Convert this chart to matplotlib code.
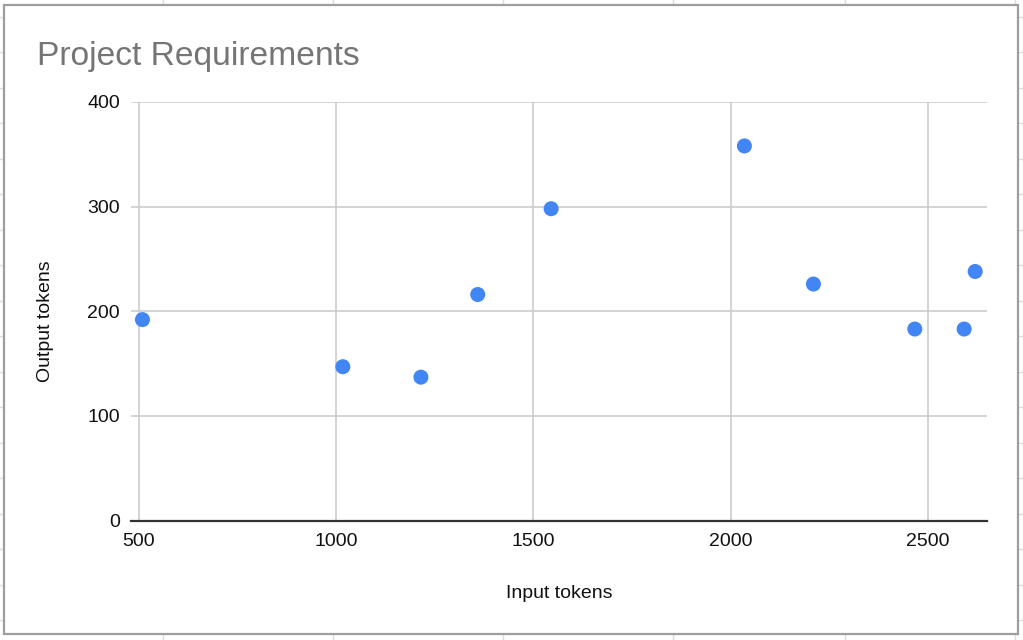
import matplotlib
matplotlib.use("Agg")
import matplotlib.pyplot as plt
from matplotlib.lines import Line2D
from matplotlib.patches import Rectangle

# ---- data ----
input_tokens = [509, 1017, 1215, 1359, 1545, 2035, 2210, 2467, 2592, 2620]
output_tokens = [192, 147, 137, 216, 298, 358, 226, 183, 183, 238]
x_ticks = [500, 1000, 1500, 2000, 2500]
y_ticks = [0, 100, 200, 300, 400]
title = "Project Requirements"
x_label = "Input tokens"
y_label = "Output tokens"

W, H = 1023, 640
plt.rcParams['font.family'] = ['Liberation Sans', 'DejaVu Sans']
fig = plt.figure(figsize=(W / 100, H / 100), dpi=100)
fig.patch.set_facecolor('white')

def fx(px):
    return px / W

def fy(py):
    return 1 - py / H

# faint spreadsheet grid behind the chart box
grid_c = '#dcdcdc'
for k in range(0, 19):
    y = 17 + 35.47 * k
    fig.add_artist(Line2D([0, 1], [fy(y), fy(y)], color=grid_c, lw=1, zorder=0))
for cx in [163, 333, 503, 673, 845, 1015]:
    fig.add_artist(Line2D([fx(cx), fx(cx)], [0, 1], color=grid_c, lw=1, zorder=0))

# chart box
fig.add_artist(Rectangle((fx(4), fy(634)), fx(1018) - fx(4), fy(5) - fy(634),
                         facecolor='white', edgecolor='#9e9e9e', lw=1.6, zorder=1))

ax = fig.add_axes([fx(131), fy(520.5), fx(987) - fx(131), fy(102) - fy(520.5)], zorder=2)
ax.set_facecolor('white')
ax.set_xlim(480, 2650)
ax.set_ylim(0, 400)
ax.set_xticks(x_ticks)
ax.set_yticks(y_ticks)
ax.grid(True, color='#cccccc', lw=1.2)
ax.set_axisbelow(True)
for s in ['top', 'right', 'left']:
    ax.spines[s].set_visible(False)
ax.spines['bottom'].set_color('#333333')
ax.spines['bottom'].set_linewidth(1.6)
ax.spines['bottom'].set_zorder(3)
ax.tick_params(axis='both', length=0, labelsize=14, labelcolor='#111111')
ax.tick_params(axis='y', pad=8)
ax.tick_params(axis='x', pad=9)

ax.scatter(input_tokens, output_tokens, s=117, color='#4285F4', edgecolors='none',
           zorder=4, clip_on=False)

fig.text(fx(37), fy(65), title, fontsize=24.2, color='#757575', ha='left', va='baseline')
fig.text(fx(559), fy(598), x_label, fontsize=14, color='#111111', ha='center', va='baseline')
fig.text(fx(46), fy(321), y_label, fontsize=14, color='#111111', ha='center', va='center',
         rotation=90)

fig.savefig('out.png', dpi=100, facecolor='white')
